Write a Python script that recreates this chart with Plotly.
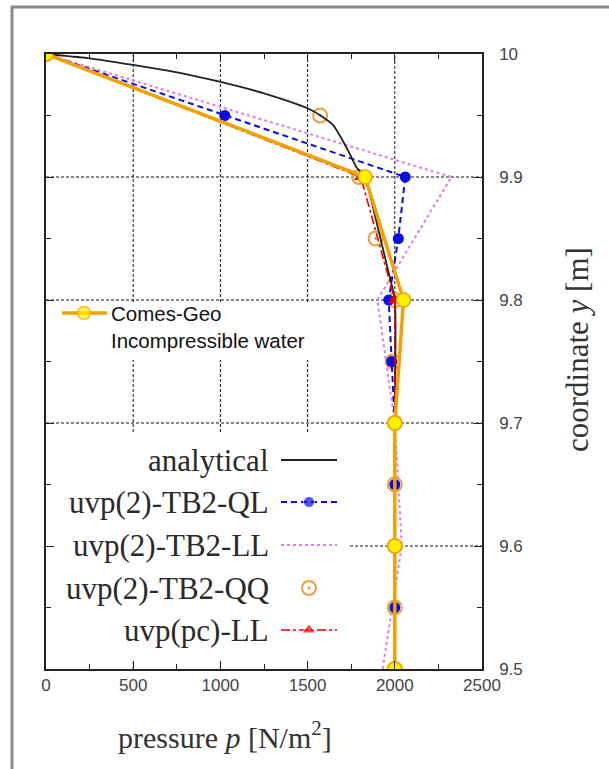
import plotly.graph_objects as go

# ---------------- data ----------------
y_nodes = [10.0, 9.9, 9.8, 9.7, 9.6, 9.5]
comes_geo_p = [0, 1830, 2050, 2000, 2000, 2000]
pc_ll_p = [0, 1805, 2000, 2000, 2000, 2000]
tb2_ll_p = [0, 2325, 1900, 2000, 2040, 1930]

y_half = [10.0, 9.95, 9.9, 9.85, 9.8, 9.75, 9.7, 9.65, 9.6, 9.55, 9.5]
tb2_ql_p = [0, 1025, 2060, 2020, 1965, 1982, 2000, 2000, 2000, 2000, 2000]
tb2_qq_p = [0, 1572, 1795, 1890, 2000, 1988, 2000, 2000, 2000, 2000, 2000]

y_analytical = [10.0, 9.9965, 9.9911, 9.9843, 9.9775, 9.968, 9.9545, 9.9423,
                9.922, 9.908, 9.899, 9.8545, 9.822, 9.8, 9.7, 9.6, 9.5]
p_analytical = [0, 250, 500, 780, 995, 1250, 1520, 1645,
                1730, 1780, 1830, 1910, 1965, 2000, 2000, 2000, 2000]

x_ticks = [0, 500, 1000, 1500, 2000, 2500]
y_ticks = [9.5, 9.6, 9.7, 9.8, 9.9, 10.0]
y_tick_text = ["9.5", "9.6", "9.7", "9.8", "9.9", "10"]
x_grid = [500, 1000, 1500, 2000]
y_grid = [9.6, 9.7, 9.8, 9.9]

legend_names = ["analytical", "uvp(2)-TB2-QL", "uvp(2)-TB2-LL", "uvp(2)-TB2-QQ", "uvp(pc)-LL"]

# ---------------- layout geometry (pixels) ----------------
W, H = 609, 769
L, R, T, B = 46, 482, 54, 669
XMAX, YMIN, YMAX = 2500.0, 9.5, 10.0


def pxx(x):
    return (x - L) / (R - L)


def pxy(y):
    return (B - y) / (B - T)


def dx(px):  # pixel -> data x
    return (px - L) / (R - L) * XMAX


def dy(py):  # pixel -> data y
    return YMAX - (py - T) / (B - T) * (YMAX - YMIN)


ORANGE = "#F2A200"
YELLOW = "#FFF000"
BLUE = "#0A0AE6"
PINK = "#E27BE8"
RED = "#E60000"
QQC = "#E8A040"

fig = go.Figure()

fig.add_trace(go.Scatter(x=tb2_ll_p, y=y_nodes, mode="lines",
                         line=dict(color=PINK, width=2, dash="dot"), showlegend=False))
fig.add_trace(go.Scatter(x=tb2_qq_p, y=y_half, mode="markers",
                         marker=dict(symbol="circle-open-dot", size=14, color=QQC,
                                     line=dict(width=2, color=QQC)), showlegend=False))
fig.add_trace(go.Scatter(x=tb2_ql_p, y=y_half, mode="lines+markers",
                         line=dict(color=BLUE, width=2, dash="6px,4px"),
                         marker=dict(symbol="circle", size=11, color=BLUE), showlegend=False))
fig.add_trace(go.Scatter(x=p_analytical, y=y_analytical, mode="lines",
                         line=dict(color="#222222", width=1.8, shape="spline", smoothing=0.6),
                         showlegend=False))
fig.add_trace(go.Scatter(x=pc_ll_p, y=y_nodes, mode="lines+markers",
                         line=dict(color=RED, width=1.6, dash="dashdot"),
                         marker=dict(symbol="triangle-up", size=12, color=RED), showlegend=False))
fig.add_trace(go.Scatter(x=comes_geo_p, y=y_nodes, mode="lines+markers",
                         line=dict(color=ORANGE, width=3.5),
                         marker=dict(symbol="circle", size=14, color=YELLOW,
                                     line=dict(color=ORANGE, width=1.5)), showlegend=False))

# ---------------- manual legends (overlay pixel axes) ----------------
rows_y = [460, 502, 545, 588, 630]
samp_x0, samp_x1, samp_xm = 281, 337, 309
fig.add_trace(go.Scatter(x=[samp_x0, samp_x1], y=[rows_y[0]] * 2, xaxis="x2", yaxis="y2",
                         mode="lines", line=dict(color="#222222", width=2), showlegend=False))
fig.add_trace(go.Scatter(x=[samp_x0, samp_xm, samp_x1], y=[rows_y[1]] * 3, xaxis="x2", yaxis="y2",
                         mode="lines+markers", line=dict(color=BLUE, width=2, dash="6px,4px"),
                         marker=dict(size=[0, 11, 0], color=BLUE), showlegend=False))
fig.add_trace(go.Scatter(x=[samp_x0, samp_x1], y=[rows_y[2]] * 2, xaxis="x2", yaxis="y2",
                         mode="lines", line=dict(color=PINK, width=2, dash="dot"), showlegend=False))
fig.add_trace(go.Scatter(x=[samp_xm], y=[rows_y[3]], xaxis="x2", yaxis="y2", mode="markers",
                         marker=dict(symbol="circle-open-dot", size=14, color=QQC,
                                     line=dict(width=2, color=QQC)), showlegend=False))
fig.add_trace(go.Scatter(x=[samp_x0, samp_xm, samp_x1], y=[rows_y[4]] * 3, xaxis="x2", yaxis="y2",
                         mode="lines+markers", line=dict(color=RED, width=1.6, dash="dashdot"),
                         marker=dict(symbol="triangle-up", size=[0, 12, 0], color=RED), showlegend=False))
# Comes-Geo legend sample
fig.add_trace(go.Scatter(x=[62, 84, 107], y=[313] * 3, xaxis="x2", yaxis="y2",
                         mode="lines+markers", line=dict(color=ORANGE, width=3.5),
                         marker=dict(size=[0, 13, 0], color=YELLOW, line=dict(color=ORANGE, width=1.5)),
                         showlegend=False))

annotations = []
for name, yy in zip(legend_names, rows_y):
    annotations.append(dict(x=pxx(271), y=pxy(yy), xref="paper", yref="paper", text=name,
                            showarrow=False, xanchor="right", yanchor="middle",
                            font=dict(family="Liberation Serif", size=31, color="#2a2a2a")))
annotations.append(dict(x=pxx(109), y=pxy(313), xref="paper", yref="paper", text="Comes-Geo",
                        showarrow=False, xanchor="left", yanchor="middle",
                        font=dict(family="Liberation Sans", size=20.5, color="#111111")))
annotations.append(dict(x=pxx(109), y=pxy(340), xref="paper", yref="paper", text="Incompressible water",
                        showarrow=False, xanchor="left", yanchor="middle",
                        font=dict(family="Liberation Sans", size=20.5, color="#111111")))
# axis titles
annotations.append(dict(x=pxx(225), y=pxy(735), xref="paper", yref="paper",
                        text="pressure <i>p</i> [N/m<sup>2</sup>]", showarrow=False,
                        xanchor="center", yanchor="middle",
                        font=dict(family="Liberation Serif", size=30, color="#333333")))
annotations.append(dict(x=pxx(577), y=pxy(350), xref="paper", yref="paper",
                        text="coordinate <i>y</i> [m]", showarrow=False, textangle=-90,
                        xanchor="center", yanchor="middle",
                        font=dict(family="Liberation Serif", size=31, color="#333333")))

# ---------------- grid (drawn as segments, interrupted by the legend boxes) ----------------
grid_line = dict(color="#111111", width=1, dash="3px,2px")
box1 = (47, 330, 302, 360)   # px: x0, x1, y0(top), y1(bottom)
box2 = (47, 350, 432, 662)
shapes = []
for gx in x_grid:
    px = L + gx / XMAX * (R - L)
    segs = [(YMIN, YMAX)]
    for bx0, bx1, by0, by1 in (box1, box2):
        if bx0 <= px <= bx1:
            new = []
            lo_cut, hi_cut = dy(by1), dy(by0)
            for lo, hi in segs:
                if hi <= lo_cut or lo >= hi_cut:
                    new.append((lo, hi))
                else:
                    if lo < lo_cut:
                        new.append((lo, lo_cut))
                    if hi > hi_cut:
                        new.append((hi_cut, hi))
            segs = new
    for lo, hi in segs:
        shapes.append(dict(type="line", xref="x", yref="y", x0=gx, x1=gx, y0=lo, y1=hi,
                           line=grid_line, layer="below"))
for gy in y_grid:
    py = B - (gy - YMIN) / (YMAX - YMIN) * (B - T)
    x0 = 0.0
    for bx0, bx1, by0, by1 in (box1, box2):
        if by0 <= py <= by1:
            x0 = dx(bx1)
    shapes.append(dict(type="line", xref="x", yref="y", x0=x0, x1=XMAX, y0=gy, y1=gy,
                       line=grid_line, layer="below"))

# outer grey frame of the screenshot
shapes.append(dict(type="rect", xref="paper", yref="paper", x0=pxx(12), x1=pxx(640),
                   y0=pxy(800), y1=pxy(7), fillcolor="rgba(0,0,0,0)",
                   line=dict(color="#8a8a8a", width=3), layer="above"))

axis_common = dict(showline=True, linecolor="#222222", linewidth=1.5, mirror="ticks",
                   ticks="inside", ticklen=8, tickwidth=1.2, tickcolor="#222222",
                   showgrid=False, zeroline=False,
                   tickfont=dict(family="Liberation Sans", size=17, color="#444444"))

fig.update_layout(
    width=W, height=H,
    margin=dict(l=L, r=W - R, t=T, b=H - B),
    paper_bgcolor="white", plot_bgcolor="white",
    showlegend=False,
    xaxis=dict(range=[0, XMAX], tickvals=x_ticks, ticktext=[str(v) for v in x_ticks],
               minor=dict(ticks="inside", dtick=250, ticklen=5, tickcolor="#222222", showgrid=False),
               **axis_common),
    yaxis=dict(range=[YMIN, YMAX], side="right", tickvals=y_ticks, ticktext=y_tick_text,
               minor=dict(ticks="inside", dtick=0.05, ticklen=5, tickcolor="#222222", showgrid=False),
               ticklabelstandoff=12, **axis_common),
    xaxis2=dict(range=[L, R], overlaying="x", visible=False, fixedrange=True),
    yaxis2=dict(range=[B, T], overlaying="y", visible=False, fixedrange=True),
    annotations=annotations,
    shapes=shapes,
)

fig.write_html("out.html")
